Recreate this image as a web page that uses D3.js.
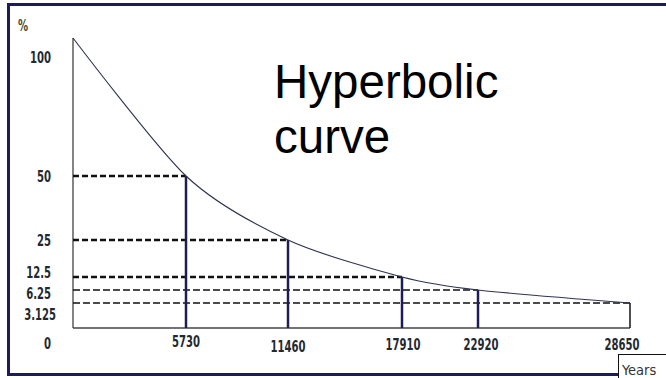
<!DOCTYPE html>
<html>
<head>
<meta charset="utf-8">
<script src="https://cdn.jsdelivr.net/npm/d3@7/dist/d3.min.js"></script>
<style>
  html, body { margin: 0; padding: 0; background: #fff; }
  svg { display: block; }
  .tick-label { font-family: "DejaVu Sans Condensed", "DejaVu Sans", sans-serif; font-weight: bold; font-size: 16px; fill: #1f2a30; }
</style>
</head>
<body>
<svg id="chart" width="666" height="378"></svg>
<script>
// Half-life decay: remaining percentage after each elapsed period
const years = [0, 5730, 11460, 17910, 22920, 28650];
const percent = [100, 50, 25, 12.5, 6.25, 3.125];
const yTicks = [100, 50, 25, 12.5, 6.25, 3.125, 0];
const xTicks = [5730, 11460, 17910, 22920, 28650];
const xTickLabels = ["5730", "11460", "17910", "22920", "28650"];

const svg = d3.select("#chart");
const navy = "#1c1c58";
const squeeze = 0.7; // narrow digit face for the tick labels

// schematic (non-proportional) axes, drawn as piecewise-linear scales
const x = d3.scaleLinear()
  .domain(years)
  .range([73, 186, 288, 402, 478, 630]);
const y = d3.scaleLinear()
  .domain([0, 3.125, 6.25, 12.5, 25, 50, 100])
  .range([328, 303, 290, 277, 240, 176, 38]);

// outer frame
svg.append("rect")
  .attr("x", 8.5).attr("y", 4.5)
  .attr("width", 700).attr("height", 370)
  .attr("fill", "none").attr("stroke", navy).attr("stroke-width", 3);

// axes
svg.append("line")
  .attr("x1", x(0)).attr("x2", x(0))
  .attr("y1", y(100)).attr("y2", y(0))
  .attr("stroke", "#333").attr("stroke-width", 1.2);
svg.append("line")
  .attr("x1", x(0)).attr("x2", x(28650))
  .attr("y1", y(0)).attr("y2", y(0))
  .attr("stroke", "#444").attr("stroke-width", 1.5);

const points = years.map((yr, i) => ({ yr, p: percent[i] }));

// dashed guides from the axis to each half-life point
svg.append("g").selectAll("line")
  .data(points.slice(1))
  .join("line")
  .attr("x1", x(0))
  .attr("x2", d => x(d.yr))
  .attr("y1", d => y(d.p))
  .attr("y2", d => y(d.p))
  .attr("stroke", "#111")
  .attr("stroke-width", d => d.p >= 12.5 ? 2.5 : 1.3)
  .attr("stroke-dasharray", d => d.p >= 12.5 ? "6,3" : "7,3");

// drop lines
svg.append("g").selectAll("line")
  .data(points.slice(1))
  .join("line")
  .attr("x1", d => x(d.yr))
  .attr("x2", d => x(d.yr))
  .attr("y1", d => y(d.p))
  .attr("y2", y(0))
  .attr("stroke", d => d.yr === 28650 ? "#222" : navy)
  .attr("stroke-width", d => d.yr === 28650 ? 1.6 : 2.5);

// decay curve
svg.append("path")
  .datum(points)
  .attr("d", d3.line().x(d => x(d.yr)).y(d => y(d.p)).curve(d3.curveCardinal.tension(0.2)))
  .attr("fill", "none")
  .attr("stroke", "#2e3350")
  .attr("stroke-width", 1.1);

// y labels, spread apart where the guides crowd together
const yNudge = { 100: 19, 12.5: -5, 6.25: 3, 3.125: 11, 0: 15 };
svg.append("g").selectAll("text")
  .data(yTicks)
  .join("text")
  .attr("class", "tick-label")
  .attr("transform", d => `translate(${d === 3.125 ? 56 : 51},${y(d) + (yNudge[d] || 0)}) scale(${squeeze},1)`)
  .attr("dy", "0.36em")
  .attr("text-anchor", "end")
  .text(d => String(d));

svg.append("text")
  .attr("class", "tick-label")
  .attr("transform", `translate(18,31) scale(${squeeze},1)`)
  .style("fill", "#4a4a30")
  .text("%");

// x labels
const xNudge = { 5730: [0, 13], 11460: [0, 18], 17910: [1, 16], 22920: [3, 16], 28650: [-8, 16] };
svg.append("g").selectAll("text")
  .data(xTicks)
  .join("text")
  .attr("class", "tick-label")
  .attr("transform", d => `translate(${x(d) + xNudge[d][0]},${y(0) + xNudge[d][1]}) scale(${squeeze},1)`)
  .attr("dy", "0.36em")
  .attr("text-anchor", "middle")
  .text((d, i) => xTickLabels[i]);

// axis unit box
svg.append("rect")
  .attr("x", 618.5).attr("y", 354.5)
  .attr("width", 60).attr("height", 30)
  .attr("fill", "#fff").attr("stroke", "#111").attr("stroke-width", 1);
svg.append("text")
  .attr("x", 622).attr("y", 375)
  .style("font-family", "'DejaVu Sans Condensed', sans-serif")
  .style("font-size", "14.5px")
  .style("fill", "#333")
  .text("Years");

// annotation
svg.append("text")
  .attr("x", 274).attr("y", 98)
  .style("font-family", "'Liberation Sans', Arial, sans-serif")
  .style("font-size", "47.5px")
  .style("fill", "#000")
  .selectAll("tspan")
  .data(["Hyperbolic", "curve"])
  .join("tspan")
  .attr("x", 274)
  .attr("dy", (d, i) => i === 0 ? 0 : 55)
  .text(d => d);
</script>
</body>
</html>
